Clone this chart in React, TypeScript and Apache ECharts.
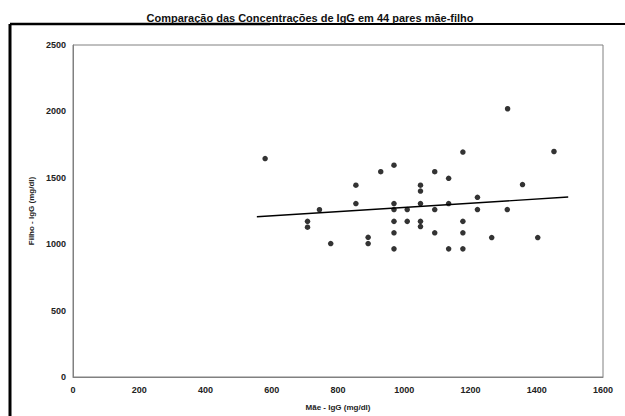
import React, { useEffect, useRef } from "react";
import * as echarts from "echarts";

const titleText = "Comparação das Concentrações de IgG em 44 pares mãe-filho";
const xAxisName = "Mãe - IgG (mg/dl)";
const yAxisName = "Filho - IgG (mg/dl)";

const motherIgG = [
  580, 708, 708, 744, 778, 854, 854, 891, 891, 929, 969, 969, 969, 969, 969, 969,
  1009, 1009, 1049, 1049, 1049, 1049, 1049, 1092, 1092, 1092, 1134, 1134, 1134,
  1177, 1177, 1177, 1177, 1221, 1221, 1264, 1311, 1312, 1357, 1403, 1452,
];
const childIgG = [
  1645, 1172, 1128, 1260, 1005, 1444, 1306, 1052, 1005, 1546, 1595, 1306, 1261, 1172, 1086, 965,
  1261, 1172, 1444, 1400, 1306, 1172, 1133, 1546, 1261, 1086, 1496, 1306, 965,
  1694, 1172, 1086, 965, 1353, 1261, 1050, 1261, 2020, 1449, 1050, 1698,
];
const trendX = [555, 1495];
const trendY = [1207, 1355];

export default function App() {
  const ref = useRef<HTMLDivElement>(null);
  useEffect(() => {
    if (!ref.current) return;
    const chart = echarts.init(ref.current, undefined, { renderer: "svg" });
    const labelStyle = {
      fontFamily: "Liberation Sans, Arial, sans-serif",
      fontSize: 9,
      fontWeight: "bold" as const,
      color: "#222",
    };
    chart.setOption({
      animation: false,
      backgroundColor: "#fff",
      title: {
        text: titleText,
        left: 305,
        textAlign: "center",
        top: 7,
        textStyle: {
          fontFamily: "Liberation Sans, Arial, sans-serif",
          fontSize: 11,
          fontWeight: "bold",
          color: "#111",
        },
      },
      graphic: [
        {
          type: "line",
          shape: { x1: 10, y1: 24, x2: 270, y2: 24 },
          style: { stroke: "#000", lineWidth: 2.5 },
        },
        {
          type: "line",
          shape: { x1: 270, y1: 24, x2: 625, y2: 24 },
          style: { stroke: "#000", lineWidth: 1.8 },
        },
        {
          type: "line",
          shape: { x1: 10, y1: 24, x2: 10, y2: 416 },
          style: { stroke: "#000", lineWidth: 3 },
        },
      ],
      grid: {
        left: 73,
        top: 45,
        width: 530,
        height: 337,
        show: true,
        borderColor: "#808080",
        borderWidth: 1,
        backgroundColor: "transparent",
      },
      xAxis: {
        type: "value",
        min: 0,
        max: 1600,
        interval: 200,
        name: xAxisName,
        nameLocation: "middle",
        nameGap: 26,
        nameTextStyle: { ...labelStyle, fontSize: 8 },
        axisLine: { show: true, lineStyle: { color: "#808080", width: 1 } },
        axisTick: { show: false },
        splitLine: { show: false },
        axisLabel: { ...labelStyle, margin: 8, formatter: (v: number) => String(v) },
      },
      yAxis: {
        type: "value",
        min: 0,
        max: 2500,
        interval: 500,
        name: yAxisName,
        nameLocation: "middle",
        nameGap: 36,
        nameRotate: 90,
        nameTextStyle: { ...labelStyle, fontSize: 8 },
        axisLine: { show: true, lineStyle: { color: "#808080", width: 1 } },
        axisTick: { show: false },
        splitLine: { show: false },
        axisLabel: { ...labelStyle, margin: 7, formatter: (v: number) => String(v) },
      },
      series: [
        {
          type: "scatter",
          data: motherIgG.map((x, i) => [x, childIgG[i]]),
          symbol: "circle",
          symbolSize: 5.5,
          itemStyle: { color: "#000" },
        },
        {
          type: "line",
          data: trendX.map((x, i) => [x, trendY[i]]),
          symbol: "none",
          lineStyle: { color: "#000", width: 1.4 },
        },
      ],
    });
    return () => chart.dispose();
  }, []);
  return (
    <div
      ref={ref}
      style={{ position: "fixed", left: 0, top: 0, width: 625, height: 416 }}
    />
  );
}
